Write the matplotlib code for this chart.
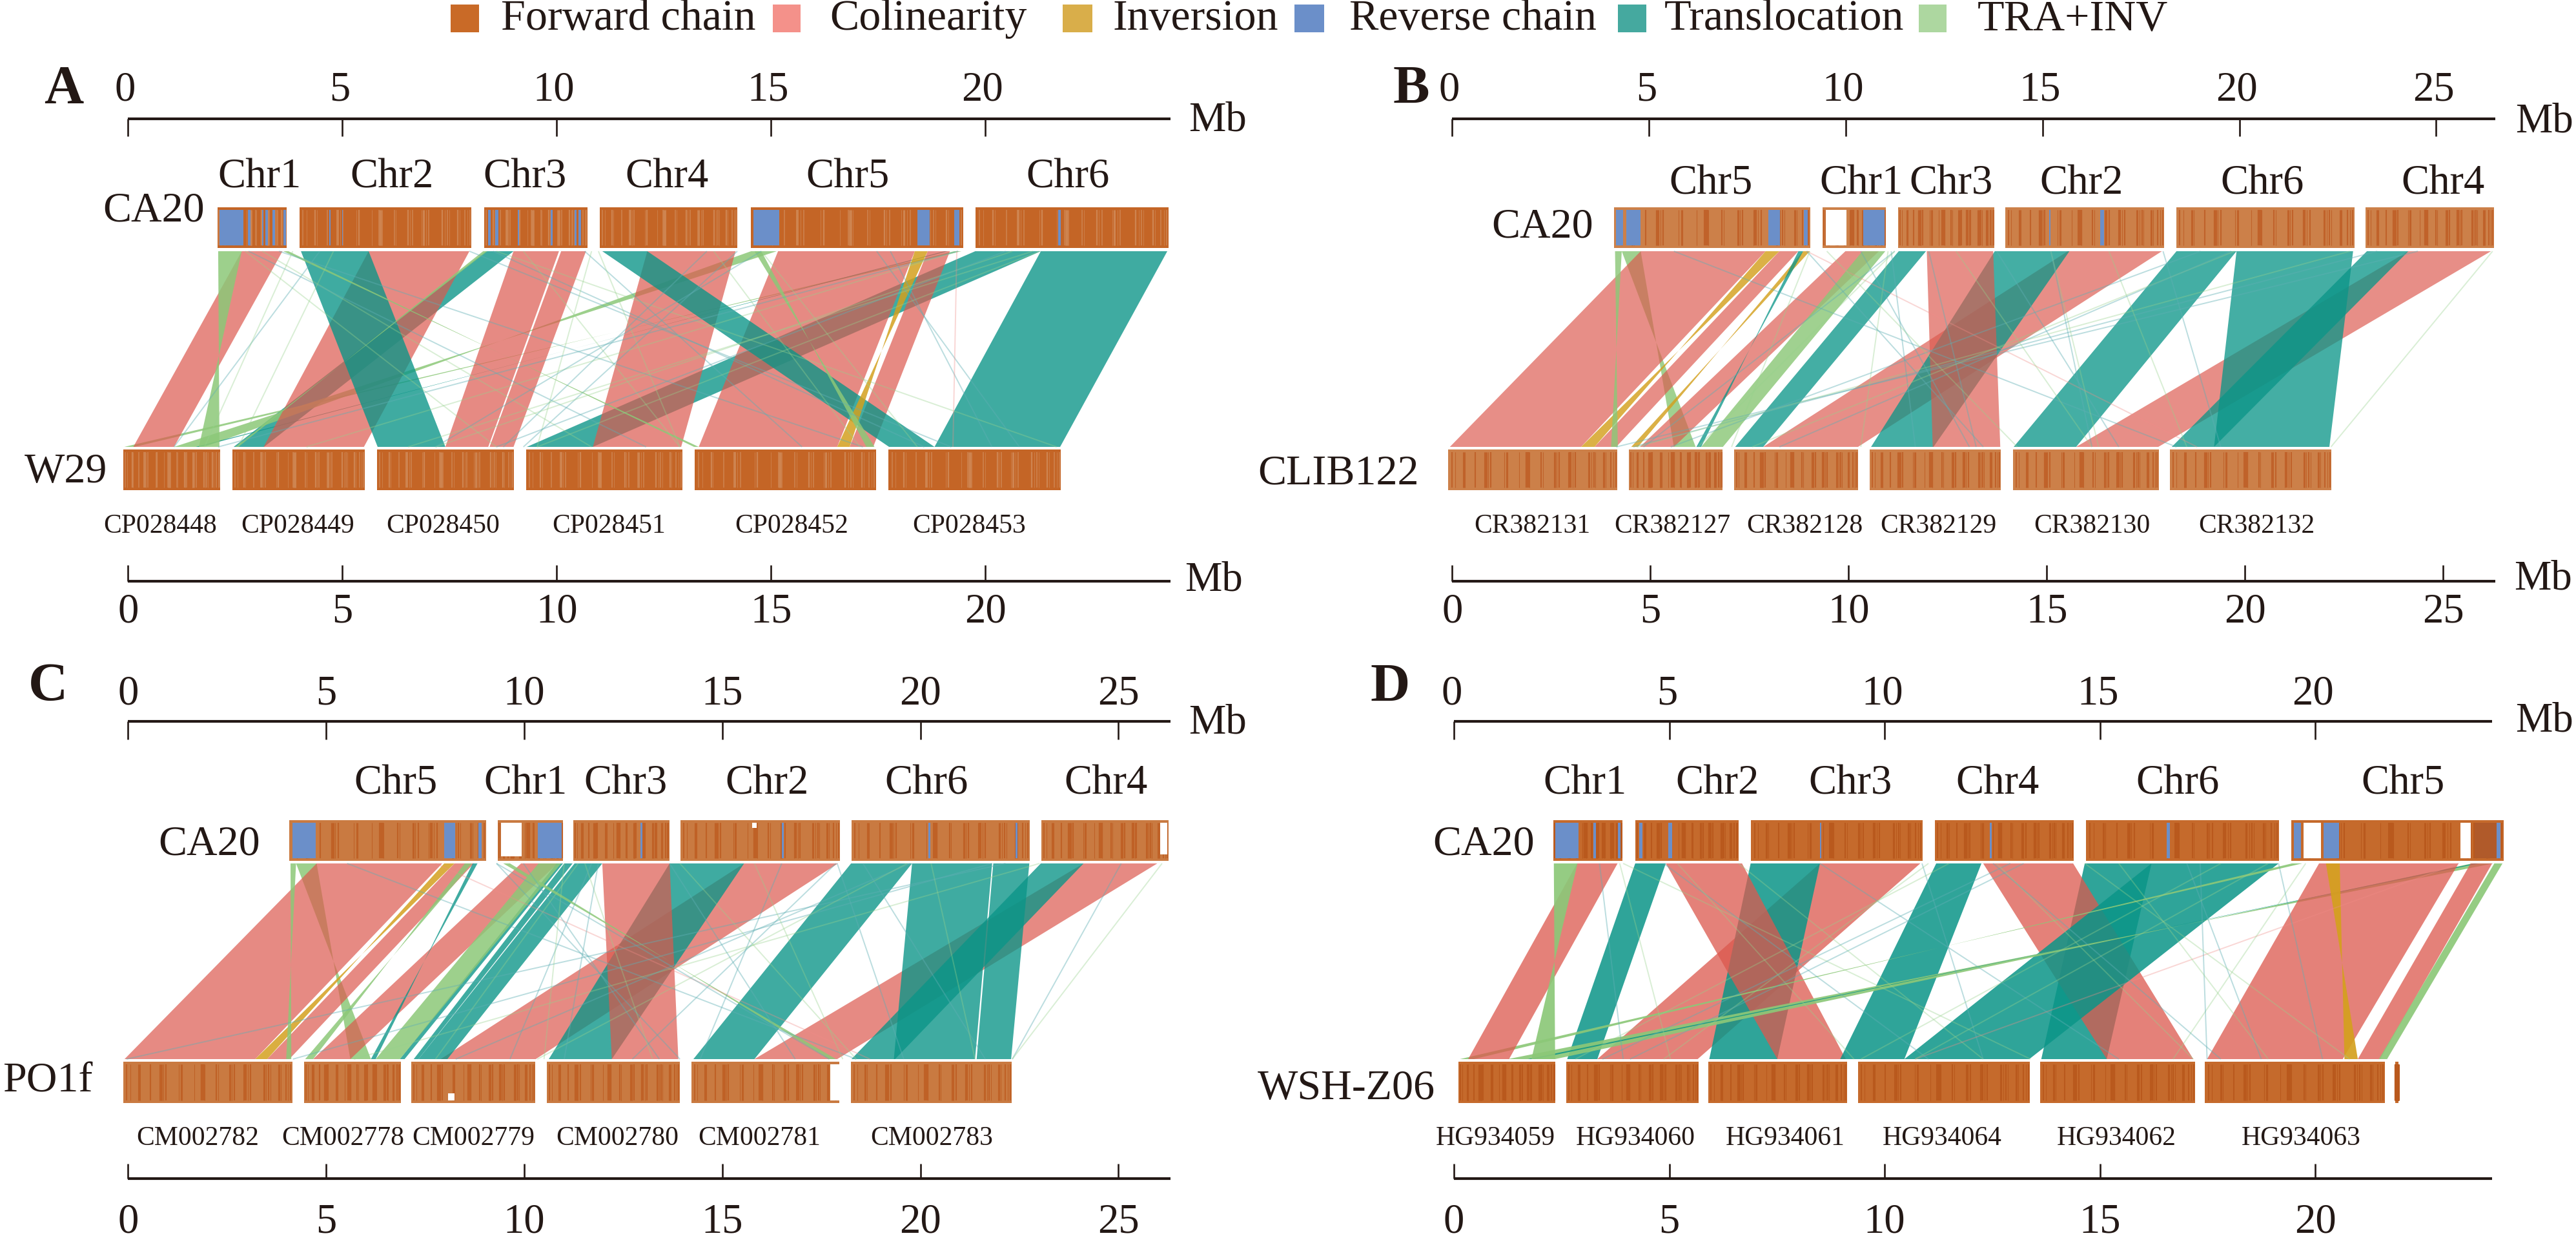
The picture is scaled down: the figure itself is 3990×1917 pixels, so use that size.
import matplotlib
matplotlib.use("Agg")
import matplotlib.pyplot as plt
from matplotlib.patches import Rectangle, Polygon

plt.rcParams['font.family'] = ['Liberation Serif', 'DejaVu Serif']
W, H = 3990, 1917
INK = '#231815'

# ---------- legend ----------
legend_names = ['Forward chain', 'Colinearity', 'Inversion', 'Reverse chain', 'Translocation', 'TRA+INV']
legend_colors = ['#C96A27', '#F4918A', '#D9AE4A', '#6B8FC9', '#45A99F', '#ADD7A0']

# ---------- ribbon styles: P colinearity, T translocation, I inversion, G TRA+INV ----------
fill = {'P': ((220/255, 89/255, 78/255), .70), 'T': ((11/255, 149/255, 136/255), .79),
        'I': ((212/255, 160/255, 30/255), .85), 'G': ((140/255, 200/255, 120/255), .85)}
thin = {'t': ((95/255, 175/255, 180/255), .42), 'g': ((150/255, 210/255, 140/255), .36),
        'r': ((240/255, 140/255, 135/255), .35)}

# ---------- shared stripe texture of the chromosome bars (fraction of bar, width) ----------
stripe_frac = [.02, .04, .09, .10, .16, .22, .235, .25, .33, .345, .42, .46, .47, .48, .55, .56,
               .63, .64, .655, .71, .72, .735, .75, .83, .845, .86, .87, .92, .93, .96, .975, .99]
stripe_lw = [2, 1, 3, 1, 2, 5, 1, 2, 1, 3, 1, 2, 6, 1, 2, 1, 3, 1, 2, 1, 4, 1, 2, 3, 1, 2, 1, 3, 1, 2, 1, 2]

# ---------- Panel A ----------
A_chr = ['Chr1', 'Chr2', 'Chr3', 'Chr4', 'Chr5', 'Chr6']
A_chr_x = [3.07, 6.15, 9.25, 12.57, 16.78, 21.92]
A_top_start = [2.09, 4.00, 8.30, 11.00, 14.52, 19.77]
A_top_end = [3.70, 8.01, 10.71, 14.21, 19.48, 24.27]
A_acc = ['CP028448', 'CP028449', 'CP028450', 'CP028451', 'CP028452', 'CP028453']
A_acc_x = [.75, 3.95, 7.34, 11.21, 15.48, 19.62]
A_bot_start = [-.11, 2.43, 5.80, 9.29, 13.22, 17.74]
A_bot_end = [2.15, 5.52, 9.00, 12.93, 17.45, 21.76]
A_blue_start = [2.13, 2.79, 3.12, 3.20, 3.37, 3.62, 4.69, 4.99, 8.40, 8.56, 9.09, 9.86, 10.42, 10.50, 14.58, 18.41, 19.27, 21.70]
A_blue_end = [2.69, 2.85, 3.16, 3.26, 3.42, 3.68, 4.72, 5.01, 8.45, 8.64, 9.12, 9.90, 10.46, 10.57, 15.19, 18.70, 19.39, 21.75]
A_kind = ['T', 'T', 'G', 'G', 'T', 'P', 'P', 'P', 'P', 'P', 'P', 'P', 'T', 'T', 'T', 'I', 'G', 'G', 'G', 'G']
A_t0 = [19.76, 8.35, 14.53, 19.27, 19.04, 2.65, 5.61, 8.99, 10.10, 12.11, 15.16, 18.65, 4.03, 11.06, 21.29, 18.35, 2.10, 14.61, 8.28, 3.62]
A_t1 = [21.29, 8.99, 15.13, 19.44, 19.12, 3.60, 7.96, 10.05, 10.68, 14.17, 18.35, 19.17, 5.61, 12.11, 24.24, 18.65, 2.65, 14.77, 8.38, 3.74]
A_b0 = [9.30, 2.46, 1.78, .15, 1.66, .12, 3.16, 7.40, 8.43, 10.84, 13.31, 16.83, 5.82, 17.75, 18.81, 16.83, 2.13, 17.41, 2.57, 13.31]
A_b1 = [10.84, 3.17, 1.07, -.09, 1.58, 1.07, 5.50, 8.40, 8.99, 12.90, 16.54, 17.38, 7.40, 18.81, 21.74, 16.54, 1.65, 17.22, 2.50, 13.20]
A_thin_top = [2.73, 3.13, 2.81, 3.52, 7.96, 8.59, 8.51, 9.22, 10.65, 10.81, 10.97, 13.50, 13.66, 14.21, 19.36, 19.36, 17.46, 21.11, 20.63, 20.47, 21.26, 14.77, 14.77, 4.47, 3.84, 4.79, 17.78, 19.33]
A_thin_bot = [8.59, 10.81, 12.08, 17.14, 19.20, 21.66, 18.57, 12.87, 15.72, 9.54, 12.87, 8.75, 17.07, 9.22, 4.16, 2.10, 20.79, 6.53, 7.17, 8.59, 9.54, 7.17, 18.41, 1.07, 1.78, 2.57, 20.15, 19.24]
A_thin_kind = ['g', 'g', 't', 't', 't', 'g', 't', 'g', 't', 'g', 'g', 't', 'g', 't', 'g', 't', 't', 'g', 'g', 't', 'g', 't', 'g', 't', 'g', 'g', 't', 'r']

# ---------- Panel B ----------
B_chr = ['Chr5', 'Chr1', 'Chr3', 'Chr2', 'Chr6', 'Chr4']
B_chr_x = [6.55, 10.35, 12.62, 15.93, 20.50, 25.07]
B_top_start = [4.10, 9.38, 11.29, 13.99, 18.32, 23.12]
B_top_end = [9.06, 10.98, 13.72, 18.02, 22.83, 26.36]
B_acc = ['CR382131', 'CR382127', 'CR382128', 'CR382129', 'CR382130', 'CR382132']
B_acc_x = [2.02, 5.57, 8.92, 12.31, 16.20, 20.35]
B_bot_start = [-.10, 4.47, 7.13, 10.56, 14.20, 18.17]
B_bot_end = [4.18, 6.84, 10.27, 13.89, 17.88, 22.25]
B_blue_start = [4.14, 4.41, 8.00, 8.90, 10.40, 15.10, 16.40]
B_blue_end = [4.32, 4.76, 8.30, 9.00, 10.94, 15.14, 16.50]
B_white_start = [9.46]
B_white_end = [9.98]
B_kind = ['P', 'P', 'T', 'T', 'T', 'T', 'G', 'P', 'P', 'P', 'P', 'T', 'I', 'G', 'I', 'T', 'G']
B_t0 = [24.20, 15.58, 13.73, 18.33, 19.85, 23.15, 4.29, 4.77, 8.28, 9.95, 12.01, 11.30, 7.93, 4.12, 8.88, 8.76, 10.38]
B_t1 = [26.29, 17.96, 15.62, 19.85, 22.80, 24.20, 4.77, 7.93, 8.76, 10.80, 13.69, 11.99, 8.28, 4.29, 9.05, 8.88, 10.96]
B_b0 = [15.79, 7.87, 10.60, 14.21, 19.28, 18.21, 6.16, -.06, 3.60, 4.75, 12.16, 7.16, 3.60, 4.19, 4.70, 6.30, 6.30]
B_b1 = [17.87, 10.27, 12.18, 15.79, 22.20, 19.28, 5.61, 3.26, 4.15, 5.61, 13.87, 7.87, 3.26, 4.02, 4.53, 6.18, 6.85]
B_thin_top = [5.61, 24.44, 23.41, 22.72, 8.97, 13.78, 17.99, 16.62, 15.15, 15.15, 26.33, 11.03, 12.06, 8.97, 10.34, 11.11, 11.20, 11.20, 18.94, 19.80, 19.71, 9.48, 9.05, 12.75]
B_thin_bot = [18.33, 4.15, 4.58, 4.67, 18.85, 16.87, 19.45, 18.59, 16.36, 16.19, 22.24, 10.34, 13.26, 13.44, 13.09, 11.72, 4.84, 6.22, 5.53, 7.59, 8.28, 14.30, 7.07, 16.19]
B_thin_kind = ['t', 't', 't', 'g', 'r', 't', 't', 'g', 'g', 't', 'g', 'g', 't', 't', 't', 't', 't', 'g', 't', 'g', 't', 'g', 'g', 'g']

# ---------- Panel C ----------
C_chr = ['Chr5', 'Chr1', 'Chr3', 'Chr2', 'Chr6', 'Chr4']
C_chr_x = [6.76, 10.03, 12.56, 16.13, 20.15, 24.69]
C_top_start = [4.06, 9.33, 11.24, 13.95, 18.26, 23.05]
C_top_end = [9.04, 10.97, 13.66, 17.97, 22.76, 26.26]
C_acc = ['CM002782', 'CM002778', 'CM002779', 'CM002780', 'CM002781', 'CM002783']
C_acc_x = [1.76, 5.43, 8.71, 12.35, 15.94, 20.29]
C_bot_start = [-.12, 4.44, 7.15, 10.57, 14.22, 18.24]
C_bot_end = [4.15, 6.88, 10.28, 13.93, 17.95, 22.31]
C_blue_start = [4.15, 7.98, 8.85, 10.34, 12.93, 16.50, 20.20, 22.40]
C_blue_end = [4.73, 8.25, 8.93, 10.95, 12.98, 16.55, 20.25, 22.45]
C_white_start = [9.41, 15.75, 26.06]
C_white_end = [9.93, 15.86, 26.24]
C_white_from = [0, 0, 0]
C_white_to = [.95, .15, .90]
C_bot_white_start = [8.08, 17.72]
C_bot_white_end = [8.24, 17.95]
C_bot_white_from = [.80, 0]
C_bot_white_to = [1, 1]
C_kind = ['P', 'P', 'T', 'T', 'T', 'T', 'T', 'T', 'G', 'P', 'P', 'P', 'P', 'T', 'T', 'I', 'G', 'G', 'T', 'G', 'G']
C_t0 = [24.12, 15.55, 13.67, 18.25, 19.79, 21.84, 23.04, 11.27, 4.24, 4.76, 8.24, 9.92, 11.97, 11.01, 10.82, 7.98, 4.10, 8.50, 8.70, 10.36, 9.47]
C_t1 = [25.98, 17.92, 15.55, 19.79, 21.81, 22.75, 24.12, 11.97, 4.76, 7.93, 8.73, 10.84, 13.67, 11.22, 10.98, 8.24, 4.24, 8.68, 8.82, 10.93, 9.64]
C_b0 = [15.81, 7.89, 10.62, 14.27, 19.33, 21.42, 18.26, 7.33, 6.13, -.09, 3.51, 4.67, 12.21, 7.21, 6.86, 3.51, 4.12, 4.67, 6.25, 6.25, 17.87]
C_b1 = [17.90, 10.29, 12.21, 15.81, 21.38, 22.29, 19.36, 8.06, 5.61, 3.21, 4.07, 5.61, 13.89, 7.33, 6.98, 3.21, 3.99, 4.47, 6.13, 6.86, 17.70]
C_thin_top = [5.53, 7.76, 22.15, 21.81, 23.01, 19.75, 19.67, 17.87, 17.90, 13.67, 13.93, 9.30, 9.98, 11.53, 11.70, 11.01, 11.87, 16.50, 15.81, 25.07, 18.55, 20.27, 11.36, 9.30, 26.10]
C_thin_bot = [18.38, 18.73, -.04, 4.16, 5.70, 8.27, 10.33, 12.73, 19.58, 16.84, 18.38, 13.93, 13.41, 13.24, 9.64, 10.50, 11.01, 14.44, 18.04, 22.32, 21.64, 21.38, 7.76, 17.70, 22.32]
C_thin_kind = ['t', 'r', 't', 't', 'g', 't', 'g', 't', 't', 't', 'g', 't', 't', 'g', 't', 'g', 't', 't', 'g', 't', 't', 'g', 'g', 't', 'g']

# ---------- Panel D ----------
D_chr = ['Chr1', 'Chr2', 'Chr3', 'Chr4', 'Chr6', 'Chr5']
D_chr_x = [3.05, 6.12, 9.21, 12.62, 16.81, 22.04]
D_top_start = [2.31, 4.21, 6.90, 11.17, 14.68, 19.44]
D_top_end = [3.91, 6.61, 10.88, 14.39, 19.16, 24.38]
D_acc = ['HG934059', 'HG934060', 'HG934061', 'HG934064', 'HG934062', 'HG934063']
D_acc_x = [.97, 4.21, 7.70, 11.34, 15.38, 19.67]
D_bot_start = [.11, 2.61, 5.91, 9.38, 13.61, 17.44, 21.86]
D_bot_end = [2.36, 5.68, 9.13, 13.38, 17.21, 21.62, 21.94]
D_blue_start = [2.36, 3.24, 3.81, 4.31, 4.98, 8.50, 12.45, 16.55, 19.50, 20.20, 24.21]
D_blue_end = [2.90, 3.30, 3.87, 4.38, 5.07, 8.53, 12.49, 16.62, 19.67, 20.55, 24.30]
D_white_start = [19.73, 23.37]
D_white_end = [20.13, 23.62]
D_white_from = [0, 0]
D_white_to = [1, 1]
D_dark_start = [23.70]
D_dark_end = [24.21]
D_kind = ['P', 'T', 'P', 'T', 'P', 'T', 'T', 'T', 'G', 'G', 'T', 'P', 'P', 'P', 'I', 'G', 'G']
D_t0 = [8.50, 6.89, 4.92, 14.65, 12.29, 16.20, 4.21, 11.20, 19.46, 23.64, 23.70, 2.86, 20.09, 23.61, 20.25, 2.32, 24.16]
D_t1 = [10.83, 8.50, 6.69, 16.20, 14.38, 19.15, 4.92, 12.25, 19.70, 24.14, 23.80, 3.80, 23.33, 24.11, 20.57, 2.87, 24.35]
D_b0 = [3.33, 5.93, 7.51, 13.64, 15.16, 10.46, 2.63, 8.97, .46, 2.35, 1.88, .33, 17.49, 20.99, 20.99, 2.35, 21.48]
D_b1 = [5.66, 7.51, 9.10, 15.16, 17.17, 13.36, 3.33, 10.46, .14, 1.25, 1.72, 1.28, 20.64, 21.51, 20.68, 1.80, 21.67]
D_thin_top = [3.38, 3.85, 3.93, 4.87, 5.19, 8.50, 6.61, 10.87, 11.02, 13.23, 12.92, 11.50, 23.33, 19.15, 19.78, 17.33, 17.02, 15.44, 14.65, 12.60, 12.52, 18.91, 17.81]
D_thin_bot = [3.93, 5.03, 13.39, 11.02, 9.29, 15.44, 12.29, 12.29, 4.87, 4.09, 3.45, 2.82, 10.71, 20.17, 16.70, 17.49, 18.75, 18.91, 20.80, 17.17, 17.81, 10.71, 9.45]
D_thin_kind = ['t', 'g', 'g', 't', 'g', 't', 'g', 't', 'g', 't', 't', 'g', 'r', 't', 'g', 't', 't', 'g', 'g', 'g', 't', 'g', 'g']

A_ticks = [0, 5, 10, 15, 20]
B_ticks = [0, 5, 10, 15, 20, 25]
C_ticks = [0, 5, 10, 15, 20, 25]
D_ticks = [0, 5, 10, 15, 20]

panels = [
    dict(letter='A', lx=99, ly=139, x0=198.5, scale=66.4, end=24.31, low=False, ticks=A_ticks, top_k=1.0, bot_k=1.0,
         chr=A_chr, chr_x=A_chr_x, ts=A_top_start, te=A_top_end, acc=A_acc, acc_x=A_acc_x, bs=A_bot_start, be=A_bot_end,
         blue=(A_blue_start, A_blue_end), white=([], [], [], []), bwhite=([], [], [], []), dark=([], []),
         kind=A_kind, t0=A_t0, t1=A_t1, b0=A_b0, b1=A_b1,
         thin=(A_thin_top, A_thin_bot, A_thin_kind), base='#C46526', stripe='#CE8450', slw=.55, ra=1.0,
         q='W29', qx=102, qy=731, cx=238, cy=327, mbx=1886, mby=187, mby2=899, mbx2=1880, chr_y=275, tshift=-.07),
    dict(letter='B', lx=2186, ly=139, x0=2249.4, scale=61.2, end=26.40, low=False, ticks=B_ticks, top_k=.996, bot_k=1.003,
         chr=B_chr, chr_x=B_chr_x, ts=B_top_start, te=B_top_end, acc=B_acc, acc_x=B_acc_x, bs=B_bot_start, be=B_bot_end,
         blue=(B_blue_start, B_blue_end), white=(B_white_start, B_white_end, [0], [1]), bwhite=([], [], [], []), dark=([], []),
         kind=B_kind, t0=B_t0, t1=B_t1, b0=B_b0, b1=B_b1,
         thin=(B_thin_top, B_thin_bot, B_thin_kind), base='#CC8049', stripe='#C0622A', slw=.75, ra=.97,
         q='CLIB122', qx=2073, qy=734, cx=2389, cy=352, mbx=3941, mby=189, mby2=897, mbx2=3939, chr_y=285, tshift=-.07),
    dict(letter='C', lx=74, ly=1064, x0=198.4, scale=61.36, end=26.31, low=True, ticks=C_ticks, top_k=1.0, bot_k=1.0,
         chr=C_chr, chr_x=C_chr_x, ts=C_top_start, te=C_top_end, acc=C_acc, acc_x=C_acc_x, bs=C_bot_start, be=C_bot_end,
         blue=(C_blue_start, C_blue_end), white=(C_white_start, C_white_end, C_white_from, C_white_to),
         bwhite=(C_bot_white_start, C_bot_white_end, C_bot_white_from, C_bot_white_to), dark=([], []),
         kind=C_kind, t0=C_t0, t1=C_t1, b0=C_b0, b1=C_b1,
         thin=(C_thin_top, C_thin_bot, C_thin_kind), base='#C97A41', stripe='#BF6126', slw=.75, ra=1.0,
         q='PO1f', qx=74, qy=1675, cx=324, cy=1308, mbx=1886, mby=1120, mby2=None, mbx2=None, chr_y=1214, tshift=0),
    dict(letter='D', lx=2153, ly=1065, x0=2252, scale=66.7, end=24.11, low=True, ticks=D_ticks, top_k=1.0, bot_k=1.0,
         chr=D_chr, chr_x=D_chr_x, ts=D_top_start, te=D_top_end, acc=D_acc, acc_x=D_acc_x, bs=D_bot_start, be=D_bot_end,
         blue=(D_blue_start, D_blue_end), white=(D_white_start, D_white_end, D_white_from, D_white_to),
         bwhite=([], [], [], []), dark=(D_dark_start, D_dark_end),
         kind=D_kind, t0=D_t0, t1=D_t1, b0=D_b0, b1=D_b1,
         thin=(D_thin_top, D_thin_bot, D_thin_kind), base='#C56A2C', stripe='#B9591D', slw=.75, ra=1.08,
         q='WSH-Z06', qx=2085, qy=1686, cx=2298, cy=1308, mbx=3941, mby=1117, mby2=None, mbx2=None, chr_y=1214, tshift=-.05),
]

fig = plt.figure(figsize=(W/100, H/100), dpi=100, facecolor='white')


def ftext(x, y, s, **kw):
    fig.text(x/W, 1-y/H, s, ha=kw.pop('ha', 'center'), va=kw.pop('va', 'center'), color=INK, **kw)


FS_TICK, FS_ACC, FS_LEG, FS_LET = 46.5, 30, 49, 61

# legend
sw_x = [698, 1197, 1646, 2005, 2506, 2972]
sw_w = [44, 43, 46, 46, 44, 43]
tx_x = [776, 1285, 1724, 2090, 2578, 3063]
for name, col, sx, sw, tx in zip(legend_names, legend_colors, sw_x, sw_w, tx_x):
    fig.patches.append(Rectangle((sx/W, 1-50/H), sw/W, 43/H, transform=fig.transFigure, fc=col, ec='none'))
    ftext(tx, 46, name, ha='left', va='baseline', fontsize=FS_LEG)

for P in panels:
    ax = fig.add_axes([0, 0, 1, 1], facecolor='none')
    ax.set_xlim(-P['x0']/P['scale'], (W-P['x0'])/P['scale'])
    ax.set_ylim(H, 0)
    ax.axis('off')
    if P['low']:
        rule_t, tick_t, lab_t = 1117, 1145, 1075
        bar_t = (1270, 1333)
        link_t, link_b = 1337, 1640
        bar_b = (1644, 1708)
        acc_y, rule_b, tick_b, lab_b = 1763, 1825, 1802, 1893
    else:
        rule_t, tick_t, lab_t = 184, 211, 140
        bar_t = (321, 384)
        link_t, link_b = 389, 692
        bar_b = (696, 759)
        acc_y, rule_b, tick_b, lab_b = 815, 900, 875, 948

    # rulers
    ax.plot([0, P['end']], [rule_t, rule_t], color=INK, lw=3, solid_capstyle='butt')
    ax.plot([0, P['end']], [rule_b, rule_b], color=INK, lw=3, solid_capstyle='butt')
    for t in P['ticks']:
        xt, xb = t*P['top_k'], t*P['bot_k']
        ax.plot([xt, xt], [rule_t, tick_t], color=INK, lw=1.9, solid_capstyle='butt')
        ax.plot([xb, xb], [rule_b, tick_b], color=INK, lw=1.9, solid_capstyle='butt')
        ax.text(xt+P['tshift'], lab_t, str(t), ha='center', va='center', fontsize=FS_TICK, color=INK)
        ax.text(xb, lab_b, str(t), ha='center', va='center', fontsize=FS_TICK, color=INK)
    ftext(P['mbx'], P['mby'], 'Mb', fontsize=FS_TICK)
    if P['mby2']:
        ftext(P['mbx2'], P['mby2'], 'Mb', fontsize=FS_TICK)
    ftext(P['lx'], P['ly'], P['letter'], fontsize=FS_LET, fontweight='bold')
    ftext(P['cx'], P['cy'], 'CA20', fontsize=FS_TICK+1)
    ftext(P['qx'], P['qy'], P['q'], fontsize=FS_TICK+1)

    # bars
    for (starts, ends, (y0, y1)) in ((P['ts'], P['te'], bar_t), (P['bs'], P['be'], bar_b)):
        for s, e in zip(starts, ends):
            ax.add_patch(Rectangle((s, y0), e-s, y1-y0, fc=P['base'], ec='none', zorder=2))
            xs = [s+f*(e-s) for f in stripe_frac]
            ax.vlines(xs, y0+4, y1-4, colors=P['stripe'], linewidth=[w*P['slw'] for w in stripe_lw], zorder=3)
    inner_t = bar_t[1]-bar_t[0]-8
    inner_b = bar_b[1]-bar_b[0]-8
    for s, e in zip(*P['blue']):
        ax.add_patch(Rectangle((s, bar_t[0]+4), e-s, inner_t, fc='#6B8FC9', ec='none', zorder=4))
    for s, e in zip(*P['dark']):
        ax.add_patch(Rectangle((s, bar_t[0]+4), e-s, inner_t, fc='#B05A2A', ec='none', zorder=4))
    for s, e, a, b in zip(*P['white']):
        ax.add_patch(Rectangle((s, bar_t[0]+4+a*inner_t), e-s, (b-a)*inner_t, fc='white', ec='none', zorder=4))
    for s, e, a, b in zip(*P['bwhite']):
        ax.add_patch(Rectangle((s, bar_b[0]+4+a*inner_b), e-s, (b-a)*inner_b, fc='white', ec='none', zorder=4))

    # chr & accession labels
    for name, x in zip(P['chr'], P['chr_x']):
        ax.text(x, P['chr_y'], name, ha='center', va='center', fontsize=FS_TICK, color=INK)
    for name, x in zip(P['acc'], P['acc_x']):
        ax.text(x, acc_y, name, ha='center', va='center', fontsize=FS_ACC, color=INK)

    # ribbons, in listed drawing order
    for k, a, b, c, e in zip(P['kind'], P['t0'], P['t1'], P['b0'], P['b1']):
        col, al = fill[k]
        ax.add_patch(Polygon([(a, link_t), (b, link_t), (e, link_b), (c, link_b)], closed=True,
                             fc=col, ec='none', alpha=min(1, al*P['ra']), zorder=5))
    # faint single links
    for a, b, k in zip(*P['thin']):
        col, al = thin[k]
        ax.plot([a, b], [link_t, link_b], color=col, alpha=al, lw=1.4, zorder=6, solid_capstyle='butt')

fig.savefig('out.png', dpi=100, facecolor='white')
